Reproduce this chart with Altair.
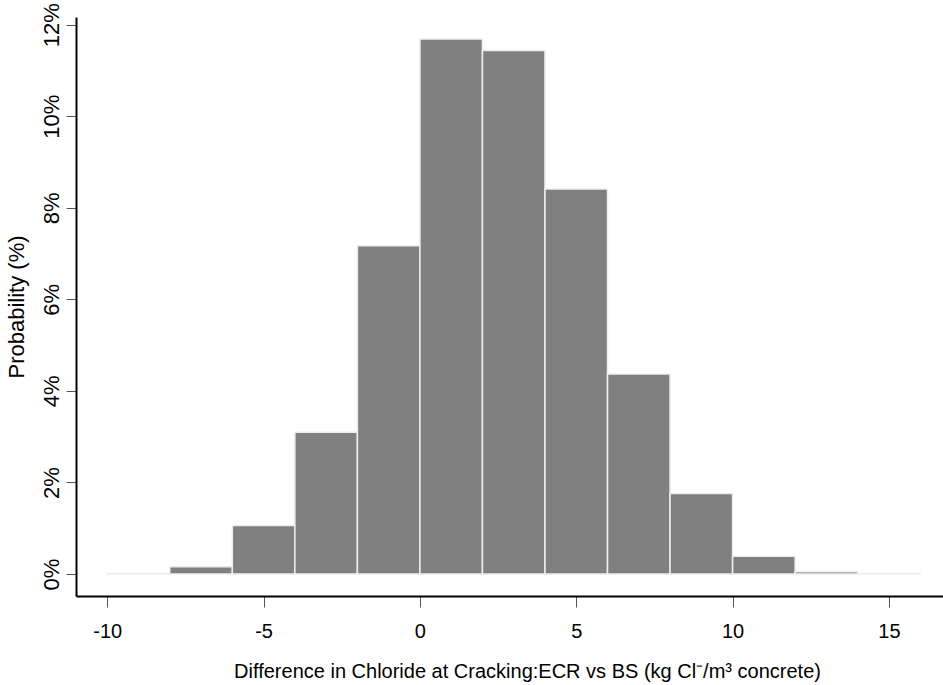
import altair as alt
import pandas as pd

bin_start = [-10, -8, -6, -4, -2, 0, 2, 4, 6, 8, 10, 12, 14]
bin_end = [-8, -6, -4, -2, 0, 2, 4, 6, 8, 10, 12, 14, 16]
prob = [0.0001, 0.0016, 0.0106, 0.0310, 0.0717, 0.1169, 0.1144, 0.0841,
        0.0437, 0.0176, 0.0039, 0.0005, 0.0001]

x_ticks = [-10, -5, 0, 5, 10, 15]
y_ticks = [0, 0.02, 0.04, 0.06, 0.08, 0.10, 0.12]

df = pd.DataFrame({"start": bin_start, "end": bin_end, "prob": prob,
                   "base": [0] * len(prob)})

FONT = "Liberation Sans"

chart = alt.Chart(df).mark_rect(
    color="#808080", stroke="#eeeeee", strokeWidth=1.5
).encode(
    x=alt.X("start:Q",
            scale=alt.Scale(domain=[-11.0, 16.73], nice=False, zero=False),
            axis=alt.Axis(values=x_ticks, labelExpr="'' + datum.value", grid=False,
                          title="Difference in Chloride at Cracking:ECR vs BS (kg Cl\u207b/m\u00b3 concrete)",
                          domainColor="#000000", domainWidth=2,
                          tickColor="#555555", tickWidth=1, tickSize=11,
                          labelFont=FONT, labelFontSize=20, labelColor="#000000",
                          labelPadding=14, titleFont=FONT, titleFontSize=20,
                          titleFontWeight="normal", titleColor="#000000",
                          titlePadding=20, titleX=451, titleAlign="center")),
    x2="end:Q",
    y=alt.Y("prob:Q",
            scale=alt.Scale(domain=[-0.0048, 0.1217], nice=False, zero=False),
            axis=alt.Axis(values=y_ticks, format=".0%", grid=False,
                          title="Probability (%)",
                          domainColor="#000000", domainWidth=2,
                          tickColor="#555555", tickWidth=1, tickSize=10,
                          labelAngle=270, labelAlign="center", labelBaseline="bottom",
                          labelFont=FONT, labelFontSize=22, labelColor="#000000",
                          labelPadding=3, titleFont=FONT, titleFontSize=22,
                          titleFontWeight="normal", titleColor="#000000",
                          titlePadding=12)),
    y2="base:Q",
).properties(
    width=867, height=579,
    padding={"left": 76, "top": 17, "right": 0, "bottom": 89},
    autosize=alt.AutoSizeParams(type="none"),
    background="#ffffff",
).configure_view(strokeWidth=0)

chart.save("out.html", embed_options={"renderer": "svg", "actions": False})
